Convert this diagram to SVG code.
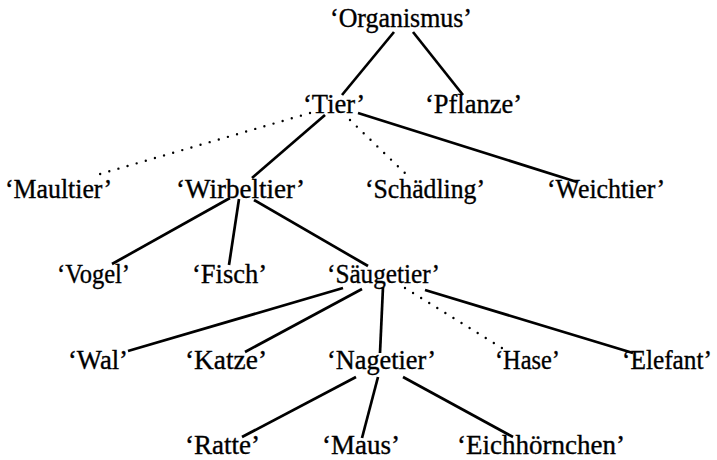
<svg xmlns="http://www.w3.org/2000/svg" width="717" height="460" viewBox="0 0 717 460">
<style>
text { font-family: "Liberation Serif", "DejaVu Serif", serif; font-size: 27px; fill: #000; stroke: #000; stroke-width: 0.35; }
.e { stroke: #000; stroke-width: 2.7; fill: none; stroke-linecap: butt; }
.d { stroke: #000; stroke-width: 2.4; fill: none; stroke-linecap: round; stroke-dasharray: 0 9.5; }
</style>
<rect width="717" height="460" fill="#fff"/>
<g id="connectors">
<line class="e" x1="394" y1="32" x2="342" y2="95"/>
<line class="e" x1="413" y1="32" x2="463" y2="95"/>
<line class="d" x1="310" y1="113" x2="100" y2="174"/>
<line class="e" x1="325" y1="115" x2="252" y2="178"/>
<line class="d" x1="350" y1="120" x2="408" y2="176"/>
<line class="e" x1="358" y1="113" x2="577" y2="182"/>
<line class="e" x1="230" y1="198" x2="112" y2="264"/>
<line class="e" x1="239" y1="199" x2="229" y2="265"/>
<line class="e" x1="254" y1="200" x2="368" y2="266"/>
<line class="e" x1="343" y1="288" x2="128" y2="351"/>
<line class="e" x1="362" y1="289" x2="245" y2="352"/>
<line class="e" x1="383" y1="287" x2="380" y2="353"/>
<line class="d" x1="405" y1="288" x2="505" y2="350"/>
<line class="e" x1="425" y1="290" x2="633" y2="353"/>
<line class="e" x1="356" y1="377" x2="242" y2="437"/>
<line class="e" x1="378" y1="377" x2="362" y2="438"/>
<line class="e" x1="403" y1="377" x2="513" y2="437"/>
</g>
<g id="n-organismus"><text x="330" y="27" textLength="142" lengthAdjust="spacingAndGlyphs">‘Organismus’</text></g>
<g id="n-tier"><text x="303" y="113" textLength="62" lengthAdjust="spacingAndGlyphs">‘Tier’</text></g>
<g id="n-pflanze"><text x="425" y="113" textLength="97" lengthAdjust="spacingAndGlyphs">‘Pflanze’</text></g>
<g id="n-maultier"><text x="5" y="198" textLength="107" lengthAdjust="spacingAndGlyphs">‘Maultier’</text></g>
<g id="n-wirbeltier"><text x="176" y="198" textLength="129" lengthAdjust="spacingAndGlyphs">‘Wirbeltier’</text></g>
<g id="n-schaedling"><text x="365" y="198" textLength="120" lengthAdjust="spacingAndGlyphs">‘Schädling’</text></g>
<g id="n-weichtier"><text x="547" y="198" textLength="118" lengthAdjust="spacingAndGlyphs">‘Weichtier’</text></g>
<g id="n-vogel"><text x="57" y="283" textLength="73" lengthAdjust="spacingAndGlyphs">‘Vogel’</text></g>
<g id="n-fisch"><text x="192" y="283" textLength="75" lengthAdjust="spacingAndGlyphs">‘Fisch’</text></g>
<g id="n-saeugetier"><text x="327" y="283" textLength="113" lengthAdjust="spacingAndGlyphs">‘Säugetier’</text></g>
<g id="n-wal"><text x="68" y="369" textLength="60" lengthAdjust="spacingAndGlyphs">‘Wal’</text></g>
<g id="n-katze"><text x="185" y="369" textLength="82" lengthAdjust="spacingAndGlyphs">‘Katze’</text></g>
<g id="n-nagetier"><text x="327" y="369" textLength="109" lengthAdjust="spacingAndGlyphs">‘Nagetier’</text></g>
<g id="n-hase"><text x="495" y="369" textLength="65" lengthAdjust="spacingAndGlyphs">‘Hase’</text></g>
<g id="n-elefant"><text x="622" y="369" textLength="90" lengthAdjust="spacingAndGlyphs">‘Elefant’</text></g>
<g id="n-ratte"><text x="185" y="454" textLength="75" lengthAdjust="spacingAndGlyphs">‘Ratte’</text></g>
<g id="n-maus"><text x="322" y="454" textLength="78" lengthAdjust="spacingAndGlyphs">‘Maus’</text></g>
<g id="n-eichhoernchen"><text x="457" y="454" textLength="168" lengthAdjust="spacingAndGlyphs">‘Eichhörnchen’</text></g>
</svg>
